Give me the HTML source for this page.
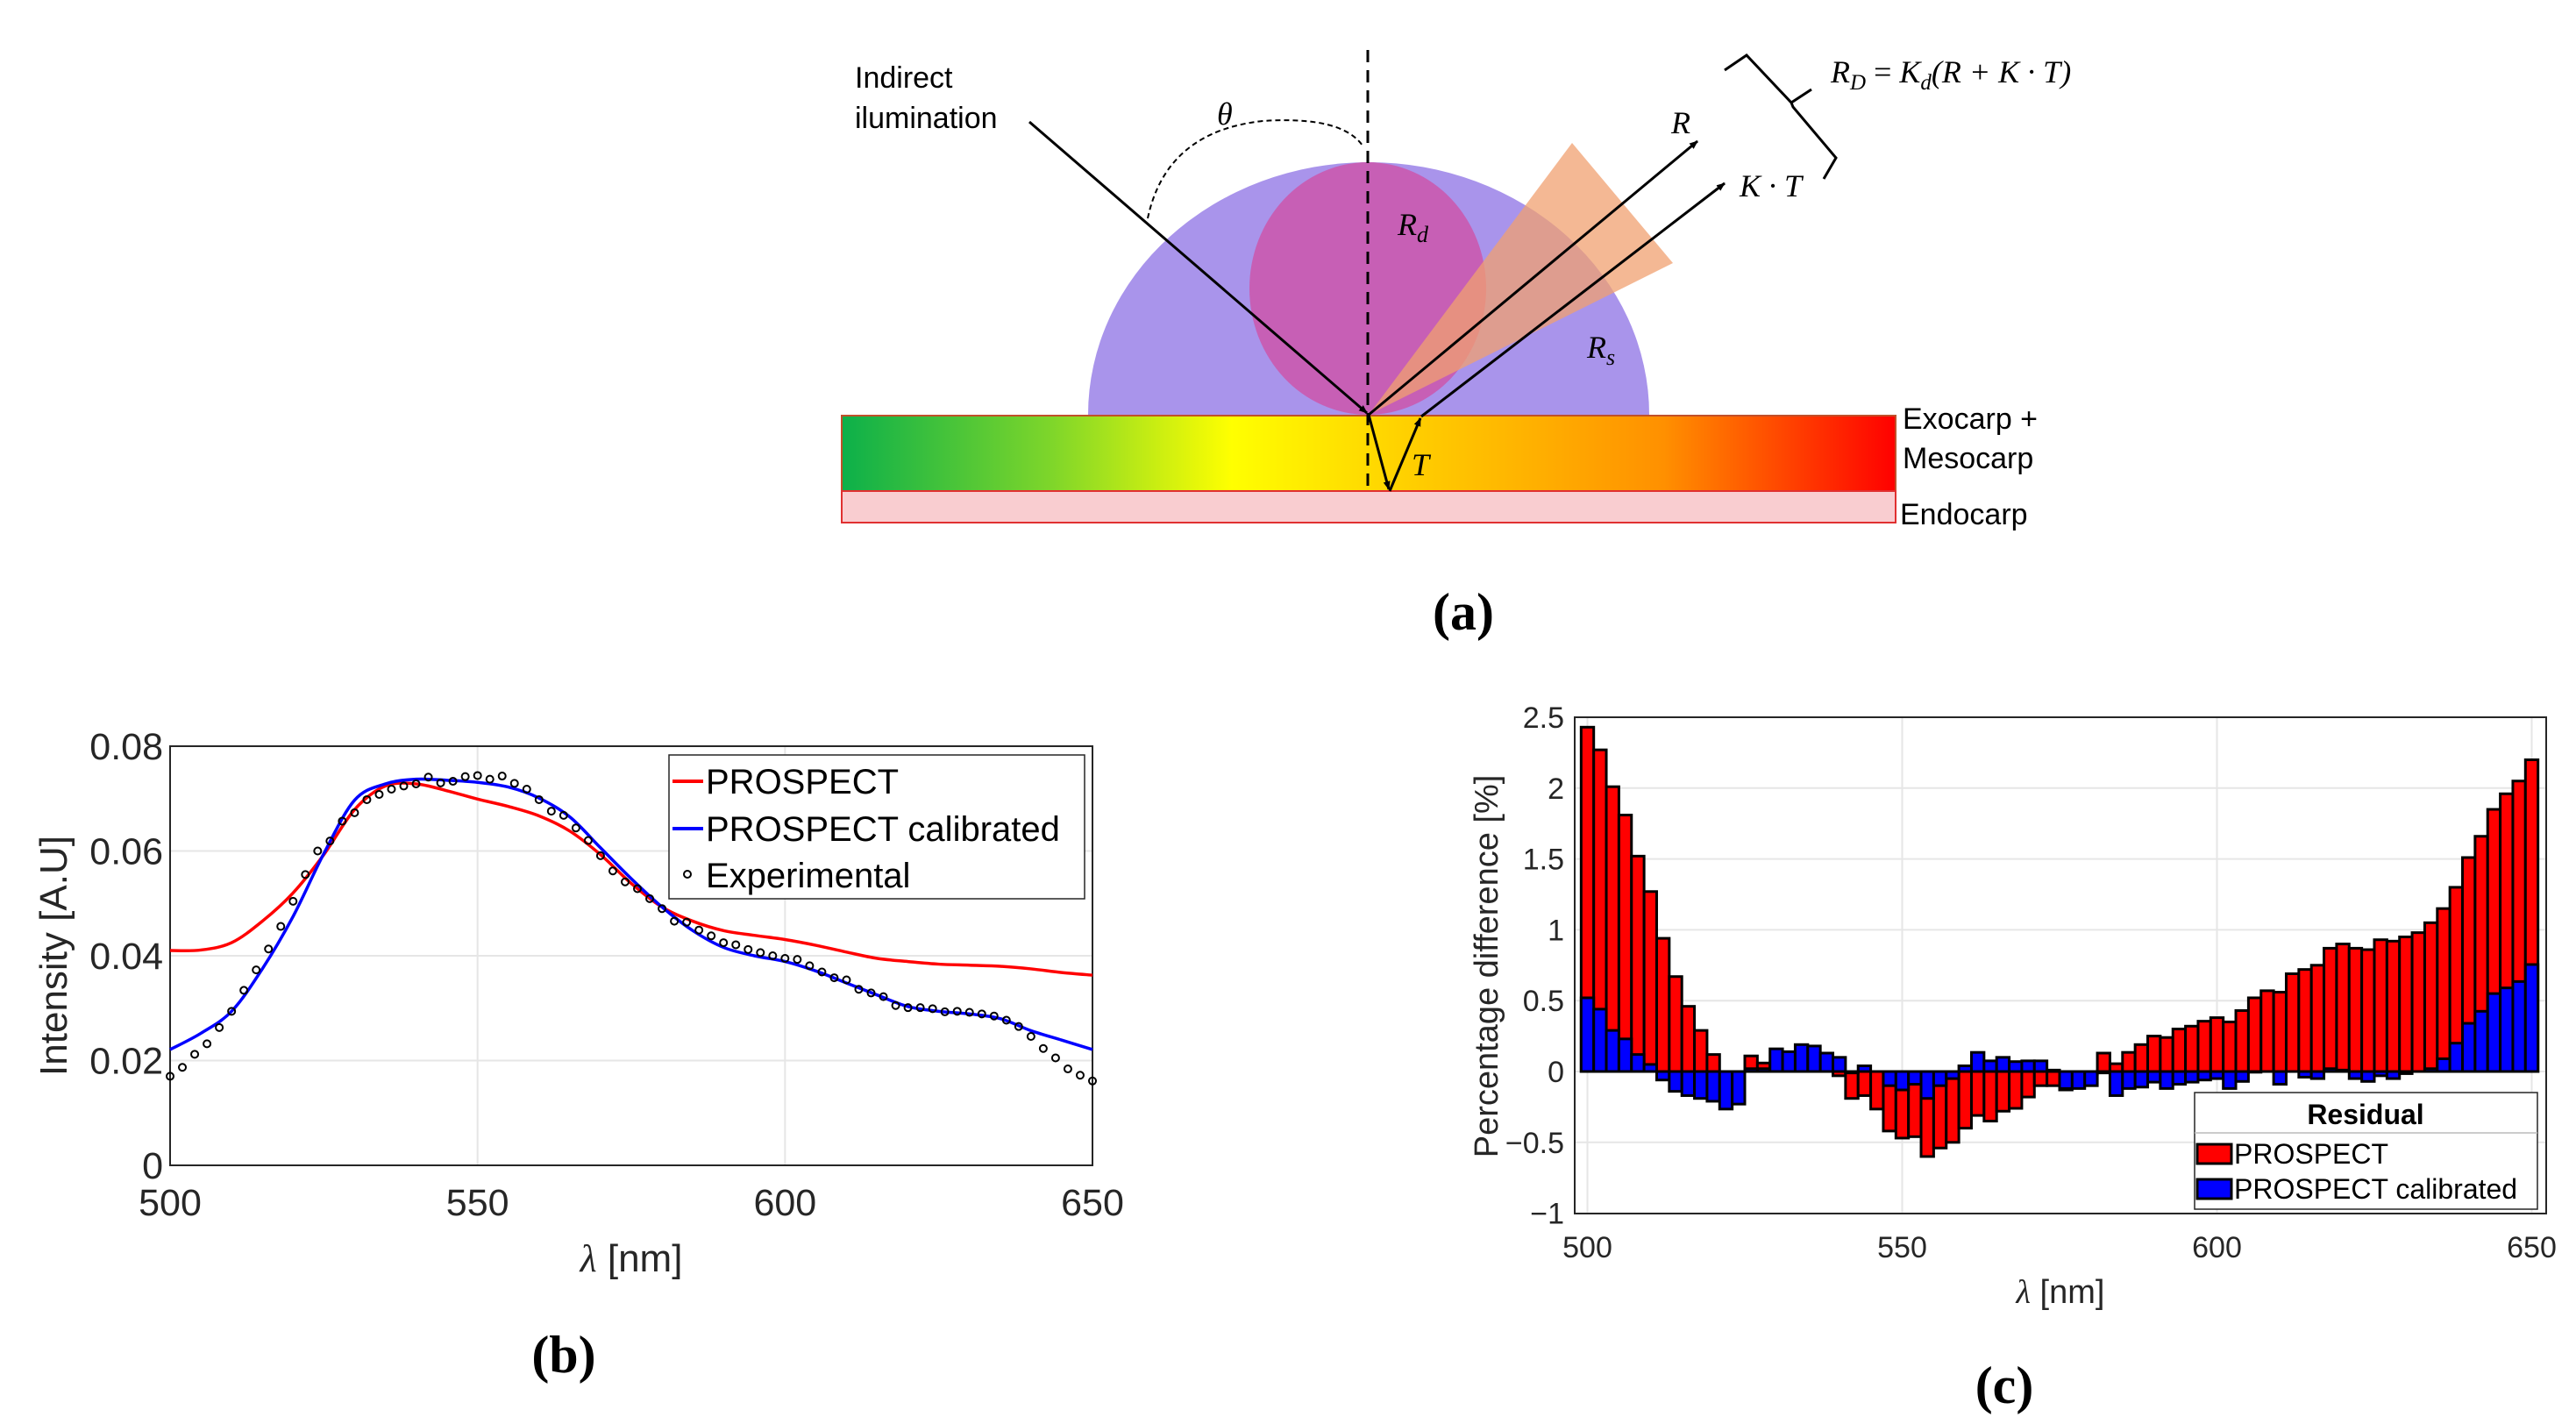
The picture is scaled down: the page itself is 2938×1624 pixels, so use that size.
<!DOCTYPE html>
<html><head><meta charset="utf-8"><style>
html,body{margin:0;padding:0;background:#fff;}
svg{display:block;font-family:"Liberation Sans",sans-serif;}
.tk{font-size:43px;fill:#262626;}
.tc{font-size:34px;fill:#262626;}
.it{font-family:"Liberation Serif",serif;font-style:italic;}
</style></head><body>
<svg id="root" width="2938" height="1624" viewBox="0 0 2938 1624" xmlns="http://www.w3.org/2000/svg">
<defs>
<linearGradient id="g" x1="0" x2="1" y1="0" y2="0">
<stop offset="0" stop-color="#0cb04a"/><stop offset="0.2" stop-color="#7fd62a"/><stop offset="0.37" stop-color="#ffff00"/><stop offset="0.55" stop-color="#ffcc00"/><stop offset="0.78" stop-color="#ff9000"/><stop offset="1" stop-color="#ff0000"/>
</linearGradient>
<marker id="ar" markerWidth="10" markerHeight="10" refX="9" refY="5" orient="auto" markerUnits="userSpaceOnUse" viewBox="0 0 10 10"><path d="M0,1 L10,5 L0,9 z" fill="#000"/></marker>
</defs>
<g>
<path d="M1241,473 A320,288 0 0 1 1881,473 Z" fill="#a994eb"/>
<ellipse cx="1560" cy="329" rx="135" ry="144" fill="#c75fb5"/>
<polygon points="1793,163 1908,300 1561,473" fill="#f0a070" opacity="0.75"/>
<rect x="960" y="474" width="1202" height="86" fill="url(#g)" stroke="#c0502a" stroke-width="2"/>
<rect x="960" y="560" width="1202" height="36" fill="#f9cdd0" stroke="#e03030" stroke-width="2"/>
<line x1="1560" y1="57" x2="1560" y2="560" stroke="#000" stroke-width="3" stroke-dasharray="14,9"/>
<line x1="1174" y1="139" x2="1559" y2="471" stroke="#000" stroke-width="3" marker-end="url(#ar)"/>
<line x1="1561" y1="473" x2="1936" y2="161" stroke="#000" stroke-width="3" marker-end="url(#ar)"/>
<line x1="1621" y1="475" x2="1967" y2="209" stroke="#000" stroke-width="3" marker-end="url(#ar)"/>
<line x1="1561" y1="473" x2="1584" y2="558" stroke="#000" stroke-width="3" marker-end="url(#ar)"/>
<line x1="1585" y1="560" x2="1620" y2="477" stroke="#000" stroke-width="3" marker-end="url(#ar)"/>
<path d="M1309,249 Q1330,150 1440,138 Q1530,132 1554,166" fill="none" stroke="#000" stroke-width="2" stroke-dasharray="6,4"/>
<path d="M1967,80 L1992,63 L2043,117 L2066,102 M2043,117 L2045,122 L2094,180 L2080,204" fill="none" stroke="#000" stroke-width="3"/>
<text x="975" y="100" font-size="34">Indirect</text>
<text x="975" y="146" font-size="34">ilumination</text>
<text x="1388" y="142" font-size="36" class="it">θ</text>
<text x="1906" y="152" font-size="36" class="it">R</text>
<text x="1984" y="224" font-size="36" class="it">K · T</text>
<text x="1594" y="268" font-size="36" class="it">R<tspan font-size="26" dy="8">d</tspan></text>
<text x="1810" y="408" font-size="36" class="it">R<tspan font-size="26" dy="8">s</tspan></text>
<text x="1610" y="542" font-size="36" class="it">T</text>
<text x="2088" y="94" font-size="36" class="it">R<tspan font-size="25" dy="8">D</tspan><tspan dy="-8" font-style="normal"> = </tspan>K<tspan font-size="25" dy="8">d</tspan><tspan dy="-8">(R + K · T)</tspan></text>
<text x="2170" y="489" font-size="34">Exocarp +</text>
<text x="2170" y="534" font-size="34">Mesocarp</text>
<text x="2167" y="598" font-size="34">Endocarp</text>
<text x="1669" y="718" font-size="60" font-weight="bold" font-family="Liberation Serif,serif" text-anchor="middle">(a)</text>
</g>
<g id="chartB"></g>
<g id="chartC"></g>
<text x="643" y="1565" font-size="60" font-weight="bold" font-family="Liberation Serif,serif" text-anchor="middle">(b)</text>
<text x="2286" y="1600" font-size="60" font-weight="bold" font-family="Liberation Serif,serif" text-anchor="middle">(c)</text>
</svg>
<script>
const NS='http://www.w3.org/2000/svg';
const modelWl=[500,505,510,515,520,525,530,535,540,545,550,555,560,565,570,575,580,585,590,595,600,605,610,615,620,625,630,635,640,645,650];
const prospect=[0.041,0.0411,0.0425,0.0466,0.052,0.0593,0.0679,0.0724,0.0728,0.0715,0.0699,0.0685,0.0667,0.0638,0.0593,0.0538,0.0493,0.0466,0.0448,0.0439,0.0431,0.042,0.0407,0.0395,0.0389,0.0384,0.0382,0.038,0.0375,0.0368,0.0363];
const calibrated=[0.0221,0.0252,0.0294,0.0375,0.0475,0.0595,0.0697,0.0728,0.0737,0.0735,0.0731,0.0722,0.0701,0.0665,0.0606,0.0547,0.0493,0.0448,0.0416,0.04,0.0389,0.0371,0.0348,0.0325,0.0303,0.0294,0.0289,0.028,0.0257,0.0239,0.0221];
const expWl=[500,502,504,506,508,510,512,514,516,518,520,522,524,526,528,530,532,534,536,538,540,542,544,546,548,550,552,554,556,558,560,562,564,566,568,570,572,574,576,578,580,582,584,586,588,590,592,594,596,598,600,602,604,606,608,610,612,614,616,618,620,622,624,626,628,630,632,634,636,638,640,642,644,646,648,650];
const experimental=[0.017,0.0187,0.0212,0.0232,0.0263,0.0294,0.0334,0.0373,0.0413,0.0456,0.0504,0.0555,0.06,0.0619,0.0657,0.0673,0.0698,0.0708,0.0718,0.0724,0.0728,0.0741,0.073,0.0733,0.0742,0.0744,0.0737,0.0743,0.0729,0.0718,0.0698,0.0676,0.0668,0.0644,0.062,0.0591,0.0562,0.0541,0.0528,0.0509,0.049,0.0466,0.0464,0.0449,0.0438,0.0425,0.0421,0.0412,0.0406,0.04,0.0395,0.0393,0.0381,0.0369,0.0358,0.0354,0.0336,0.0329,0.0322,0.0305,0.0301,0.0301,0.0299,0.0293,0.0294,0.0292,0.0289,0.0285,0.0277,0.0265,0.0246,0.0223,0.0205,0.0184,0.0172,0.0161];
const bXTicks=[500,550,600,650];
const bYTicks=[0,0.02,0.04,0.06,0.08];
const bYLabels=['0','0.02','0.04','0.06','0.08'];
const resWl=[];for(let w=500;w<=650;w+=2)resWl.push(w);
const resProspect=[2.43,2.27,2.01,1.81,1.52,1.27,0.94,0.67,0.46,0.29,0.12,-0.15,-0.15,0.11,0.06,0.05,0.05,0.04,0.03,0.02,-0.03,-0.19,-0.17,-0.265,-0.42,-0.47,-0.46,-0.6,-0.54,-0.5,-0.4,-0.31,-0.35,-0.28,-0.26,-0.18,-0.1,-0.1,-0.13,-0.05,-0.02,0.13,0.055,0.135,0.19,0.25,0.24,0.3,0.32,0.355,0.38,0.35,0.43,0.52,0.57,0.56,0.69,0.72,0.75,0.87,0.9,0.87,0.86,0.93,0.92,0.95,0.98,1.05,1.15,1.3,1.51,1.66,1.85,1.96,2.05,2.2];
const resCalibrated=[0.52,0.44,0.29,0.23,0.12,0.05,-0.06,-0.14,-0.17,-0.19,-0.21,-0.265,-0.23,0.02,0.02,0.16,0.14,0.19,0.18,0.13,0.1,-0.01,0.04,0,-0.1,-0.13,-0.09,-0.19,-0.1,-0.05,0.04,0.135,0.075,0.1,0.07,0.075,0.075,0.01,-0.12,-0.12,-0.1,-0.01,-0.17,-0.12,-0.11,-0.075,-0.12,-0.09,-0.075,-0.06,-0.05,-0.12,-0.07,-0.005,0,-0.09,0,-0.04,-0.05,0.02,0.01,-0.05,-0.07,-0.03,-0.05,-0.015,0,0.02,0.09,0.2,0.34,0.425,0.55,0.59,0.635,0.755];
const cXTicks=[500,550,600,650];
const cYTicks=[2.5,2,1.5,1,0.5,0,-0.5,-1];
const cYLabels=['2.5','2','1.5','1','0.5','0','\u22120.5','\u22121'];

function mk(parent,tag,attrs,text){const e=document.createElementNS(NS,tag);for(const k in attrs)e.setAttribute(k,attrs[k]);if(text!==undefined)e.textContent=text;parent.appendChild(e);return e;}
function smooth(pts){let d='M'+pts[0][0]+','+pts[0][1];for(let i=0;i<pts.length-1;i++){const p0=pts[Math.max(0,i-1)],p1=pts[i],p2=pts[i+1],p3=pts[Math.min(pts.length-1,i+2)];
const c1=[p1[0]+(p2[0]-p0[0])/6,p1[1]+(p2[1]-p0[1])/6],c2=[p2[0]-(p3[0]-p1[0])/6,p2[1]-(p3[1]-p1[1])/6];
d+=' C'+c1[0]+','+c1[1]+' '+c2[0]+','+c2[1]+' '+p2[0]+','+p2[1];}return d;}

(function(){
const g=document.getElementById('chartB');
const L=194,R=1246,T=851,B=1329;
const xs=w=>L+(w-500)/150*(R-L);
const ys=v=>B-v/0.08*(B-T);
bXTicks.forEach(t=>{const l=mk(g,'line',{x1:xs(t),x2:xs(t),y1:T,y2:B,stroke:'#e6e6e6','stroke-width':2});

const tx=mk(g,'text',{x:xs(t),y:1386,'text-anchor':'middle',class:'tk'},String(t));
});
bYTicks.forEach((t,i)=>{const l=mk(g,'line',{x1:L,x2:R,y1:ys(t),y2:ys(t),stroke:'#e6e6e6','stroke-width':2});

const tx=mk(g,'text',{x:L-8,y:ys(t)+15,'text-anchor':'end',class:'tk'},bYLabels[i]);
});
const box=mk(g,'rect',{x:L,y:T,width:R-L,height:B-T,fill:'none',stroke:'#262626','stroke-width':2});

function line(xsArr,vals,col,name){const p=mk(g,'path',{d:smooth(xsArr.map((w,i)=>[xs(w),ys(vals[i])])),fill:'none',stroke:col,'stroke-width':3.5,'stroke-linejoin':'round'});
}
line(modelWl,prospect,'#ff0000','prospect-line');
line(modelWl,calibrated,'#0000ff','prospect-calibrated-line');
expWl.forEach((w,i)=>{const c=mk(g,'circle',{cx:xs(w),cy:ys(experimental[i]),r:4,fill:'none',stroke:'#000','stroke-width':2});
});
const yl=mk(g,'text',{x:0,y:0,'font-size':44,fill:'#262626','text-anchor':'middle',transform:'translate(76,1090) rotate(-90)'},'Intensity [A.U]');

const xl=mk(g,'text',{x:720,y:1450,'font-size':44,fill:'#262626','text-anchor':'middle'},'');
xl.innerHTML='<tspan font-family="Liberation Serif,serif" font-style="italic">λ</tspan> [nm]';

const lg=mk(g,'g',{});
mk(lg,'rect',{x:763,y:861,width:474,height:164,fill:'#fff',stroke:'#262626','stroke-width':1.5});
[['PROSPECT','#ff0000',891],['PROSPECT calibrated','#0000ff',945]].forEach(e=>{
const l=mk(lg,'line',{x1:767,x2:802,y1:e[2],y2:e[2],stroke:e[1],'stroke-width':4});

const t=mk(lg,'text',{x:805,y:e[2]+14,'font-size':40,fill:'#000'},e[0]);
});
mk(lg,'circle',{cx:784,cy:997,r:4,fill:'none',stroke:'#000','stroke-width':2});
const te=mk(lg,'text',{x:805,y:1012,'font-size':40,fill:'#000'},'Experimental');

})();

(function(){
const g=document.getElementById('chartC');
const L=1796,R=2904,T=818,B=1384;
const xs=w=>1810.5+(w-500)*7.18;
const ys=v=>1222-v*161.6;
const bw=14.36;
cXTicks.forEach(t=>{const l=mk(g,'line',{x1:xs(t),x2:xs(t),y1:T,y2:B,stroke:'#e6e6e6','stroke-width':2});

const tx=mk(g,'text',{x:xs(t),y:1434,'text-anchor':'middle',class:'tc'},String(t));
});
cYTicks.forEach((t,i)=>{const l=mk(g,'line',{x1:L,x2:R,y1:ys(t),y2:ys(t),stroke:'#e6e6e6','stroke-width':2});

const tx=mk(g,'text',{x:1784,y:ys(t)+12,'text-anchor':'end',class:'tc'},cYLabels[i]);
});
function bars(vals,col,name){vals.forEach((v,i)=>{const y0=ys(0),y1=ys(v);
const r=mk(g,'rect',{x:xs(resWl[i])-bw/2,y:Math.min(y0,y1),width:bw,height:Math.abs(y1-y0),fill:col,stroke:'#000','stroke-width':3});
});}
bars(resProspect,'#ff0000','prospect-bar');
bars(resCalibrated,'#0000ff','calibrated-bar');
const box=mk(g,'rect',{x:L,y:T,width:R-L,height:B-T,fill:'none',stroke:'#262626','stroke-width':2});

const yl=mk(g,'text',{x:0,y:0,'font-size':38,fill:'#262626','text-anchor':'middle',transform:'translate(1708,1102) rotate(-90)'},'Percentage difference [%]');

const xl=mk(g,'text',{x:2350,y:1486,'font-size':38,fill:'#262626','text-anchor':'middle'},'');
xl.innerHTML='<tspan font-family="Liberation Serif,serif" font-style="italic">λ</tspan> [nm]';

const lg=mk(g,'g',{});
mk(lg,'rect',{x:2503,y:1246,width:391,height:133,fill:'#fff',stroke:'#262626','stroke-width':1.5});
mk(lg,'line',{x1:2503,x2:2894,y1:1292,y2:1292,stroke:'#bbb','stroke-width':1.5});
const tt=mk(lg,'text',{x:2698,y:1282,'font-size':32,'font-weight':'bold','text-anchor':'middle',fill:'#000'},'Residual');

[['PROSPECT','#ff0000',1316],['PROSPECT calibrated','#0000ff',1356]].forEach(e=>{
const s=mk(lg,'rect',{x:2506,y:e[2]-11,width:39,height:22,fill:e[1],stroke:'#000','stroke-width':3});

const t=mk(lg,'text',{x:2548,y:e[2]+11,'font-size':32,fill:'#000'},e[0]);
});
})();
</script>
</body></html>
